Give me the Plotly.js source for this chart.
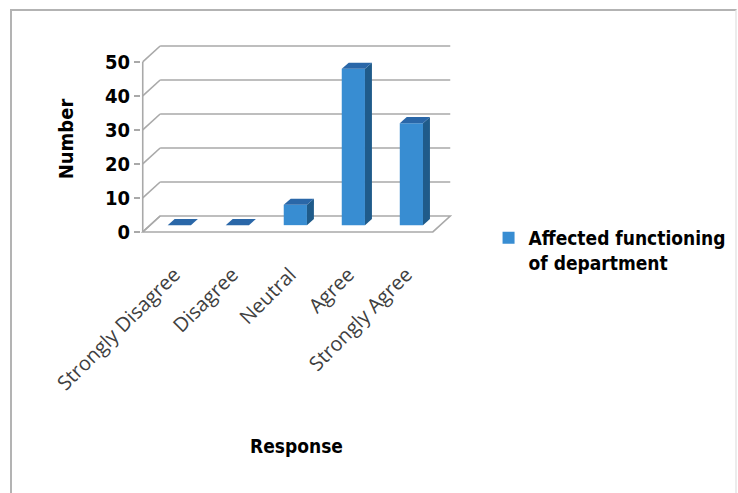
<!DOCTYPE html>
<html>
<head>
<meta charset="utf-8">
<script src="https://cdn.plot.ly/plotly-3.0.1.min.js"></script>
<style>
  html, body { margin: 0; padding: 0; background: #ffffff; }
  #wrap { position: relative; width: 738px; height: 493px; overflow: hidden; }
  #frame { position: absolute; left: 10px; top: 9px; width: 727px; height: 500px;
           border: 2px solid #b3b3b3; border-right-color: #ececec; box-sizing: border-box; }
  #chart { position: absolute; left: 0; top: 0; width: 738px; height: 493px; }
</style>
</head>
<body>
<div id="wrap">
  <div id="frame"></div>
  <div id="chart"></div>
</div>
<script>
// Survey responses
const categories = ['Strongly Disagree', 'Disagree', 'Neutral', 'Agree', 'Strongly Agree'];
const counts = [0, 0, 6, 46, 30];
const yTicks = [0, 10, 20, 30, 40, 50];
const seriesName = 'Affected functioning<br>of department';
const xTitle = 'Response';
const yTitle = 'Number';

// Pseudo-3D geometry, in axis units (categories / counts)
const BAR_W = 0.4;                       // front face width
const BAR_DEPTH = { dx: 0.12, dy: 1.8 }; // bar thickness (side + top faces)
const FRONT = { dx: -0.13, dy: -2.0 };   // floor front edge relative to the bar plane
const BACK = { dx: 0.17, dy: 2.7 };      // back wall relative to the bar plane

const C_FRONT = '#388dd2';
const C_SIDE = '#1f5b8a';
const C_TOP = '#2a67a8';
const C_GRID = '#a9a9a9';

const n = categories.length;
const xLeftFront = -0.5 + FRONT.dx;
const xRightFront = n - 0.5 + FRONT.dx;
const xLeftBack = -0.5 + BACK.dx;
const xRightBack = n - 0.5 + BACK.dx;

const shapes = [];
const seg = (x0, y0, x1, y1) => ({
  type: 'line', xref: 'x', yref: 'y', x0, y0, x1, y1,
  layer: 'below', line: { color: C_GRID, width: 1.6 }
});

// floor
shapes.push({
  type: 'path', xref: 'x', yref: 'y', layer: 'below',
  path: `M${xLeftFront},${FRONT.dy} L${xRightFront},${FRONT.dy} L${xRightBack},${BACK.dy} L${xLeftBack},${BACK.dy} Z`,
  line: { color: C_GRID, width: 1.6 }, fillcolor: 'rgba(0,0,0,0)'
});
// side wall lines and back wall gridlines
yTicks.forEach(t => {
  shapes.push(seg(xLeftFront, t + FRONT.dy, xLeftBack, t + BACK.dy));
  if (t > 0) shapes.push(seg(xLeftBack, t + BACK.dy, xRightBack, t + BACK.dy));
});
// vertical axis line on the front plane
shapes.push(seg(xLeftFront, FRONT.dy, xLeftFront, yTicks[yTicks.length - 1] + FRONT.dy));

// side and top faces of each bar
counts.forEach((v, i) => {
  const xl = i - BAR_W / 2, xr = i + BAR_W / 2;
  const dx = BAR_DEPTH.dx, dy = BAR_DEPTH.dy;
  if (v > 0) {
    shapes.push({
      type: 'path', xref: 'x', yref: 'y', layer: 'above', line: { width: 0 },
      fillcolor: C_SIDE,
      path: `M${xr},0 L${xr + dx},${dy} L${xr + dx},${v + dy} L${xr},${v} Z`
    });
  }
  shapes.push({
    type: 'path', xref: 'x', yref: 'y', layer: 'above', line: { width: 0 },
    fillcolor: C_TOP,
    path: `M${xl},${v} L${xr},${v} L${xr + dx},${v + dy} L${xl + dx},${v + dy} Z`
  });
});

const trace = {
  type: 'bar',
  x: categories,
  y: counts,
  name: seriesName,
  width: BAR_W,
  marker: { color: C_FRONT, line: { width: 0 } },
  showlegend: true,
  hoverinfo: 'x+y'
};

const boldFont = 'DejaVu Sans Condensed, DejaVu Sans, sans-serif';

const layout = {
  width: 738,
  height: 493,
  paper_bgcolor: 'rgba(0,0,0,0)',
  plot_bgcolor: 'rgba(0,0,0,0)',
  margin: { l: 141, r: 738 - 141 - 310.88, t: 44, b: 259, pad: 0 },
  bargap: 0.3,
  xaxis: {
    type: 'category',
    range: [-0.66, 4.70],
    showgrid: false, zeroline: false, showline: false,
    ticks: '',
    tickangle: -45,
    ticklabelstandoff: 24,
    ticklabelshift: -5,
    tickfont: { family: 'Open Sans, sans-serif', size: 20, color: '#404040' },
    title: { text: xTitle, standoff: 44,
             font: { family: boldFont, size: 19, color: '#000000', weight: 'bold' } },
    automargin: false
  },
  yaxis: {
    range: [-2.6, 53.28],
    showgrid: false, zeroline: false, showline: false,
    ticks: 'outside', ticklen: 6, tickwidth: 1.5, tickcolor: C_GRID,
    tickmode: 'array',
    tickvals: yTicks.map(t => t + FRONT.dy),
    ticktext: yTicks.map(String),
    tickfont: { family: boldFont, size: 20, color: '#000000', weight: 'bold' },
    title: { text: yTitle, standoff: 25,
             font: { family: boldFont, size: 20, color: '#000000', weight: 'bold' } },
    automargin: false
  },
  legend: {
    xref: 'container', yref: 'container',
    x: 0.662, xanchor: 'left',
    y: 0.556, yanchor: 'top',
    valign: 'top',
    bgcolor: 'rgba(0,0,0,0)',
    font: { family: boldFont, size: 19, color: '#000000', weight: 'bold' }
  },
  shapes: shapes,
  showlegend: true
};

Plotly.newPlot('chart', [trace], layout, { displayModeBar: false, staticPlot: true });
</script>
</body>
</html>
